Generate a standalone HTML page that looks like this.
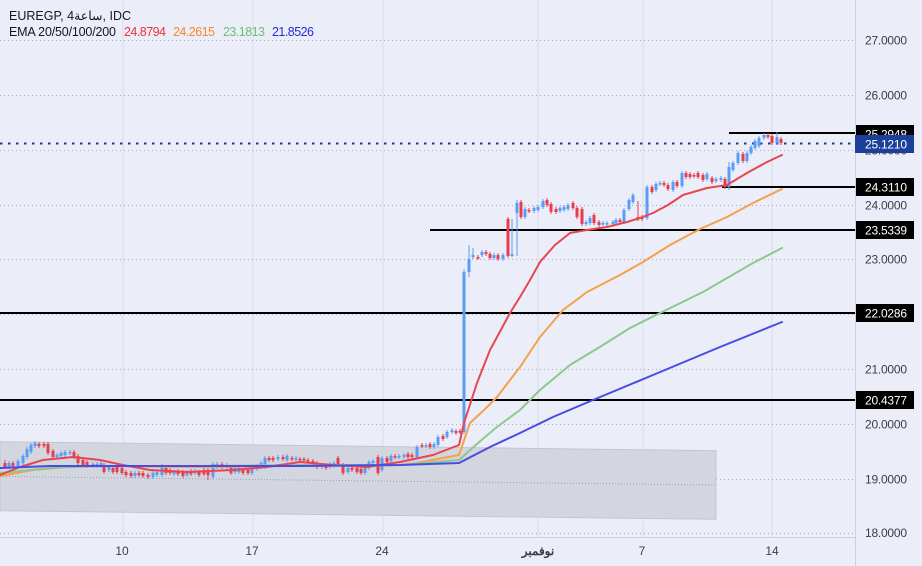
<!DOCTYPE html>
<html><head><meta charset="utf-8"><style>
html,body{margin:0;padding:0;background:#ebeef8;width:922px;height:566px;overflow:hidden}
svg{display:block}
text{font-family:"Liberation Sans","Noto Sans CJK SC",sans-serif}
</style></head><body>
<svg width="922" height="566" viewBox="0 0 922 566" xmlns="http://www.w3.org/2000/svg">
<rect width="922" height="566" fill="#ebeef8"/>
<defs><clipPath id="pl"><rect x="0" y="0" width="855" height="537"/></clipPath></defs>
<!-- vertical grid -->
<g stroke="#d9dce7" stroke-width="1">
<line x1="123" y1="0" x2="123" y2="537"/><line x1="253" y1="0" x2="253" y2="537"/><line x1="383" y1="0" x2="383" y2="537"/>
<line x1="538" y1="0" x2="538" y2="537"/><line x1="643" y1="0" x2="643" y2="537"/><line x1="772" y1="0" x2="772" y2="537"/>
</g>
<!-- horizontal grid -->
<g stroke="#a9adba" stroke-width="1" stroke-dasharray="1 3">
<line x1="0" y1="40.5" x2="855" y2="40.5"/><line x1="0" y1="95.5" x2="855" y2="95.5"/><line x1="0" y1="150.5" x2="855" y2="150.5"/>
<line x1="0" y1="205.5" x2="855" y2="205.5"/><line x1="0" y1="259.5" x2="855" y2="259.5"/><line x1="0" y1="314.5" x2="855" y2="314.5"/>
<line x1="0" y1="369.5" x2="855" y2="369.5"/><line x1="0" y1="424.5" x2="855" y2="424.5"/><line x1="0" y1="479.5" x2="855" y2="479.5"/>
<line x1="0" y1="533.5" x2="855" y2="533.5"/>
</g>
<!-- channel -->
<polygon points="0,441.7 716,450.7 716,519.3 0,510.7" fill="#d3d5df" stroke="#c3c5cf" stroke-width="1"/>
<line x1="0" y1="476.5" x2="716" y2="485" stroke="#8e9dd0" stroke-width="1" stroke-dasharray="1 2"/>
<!-- horizontal levels -->
<g stroke="#000" stroke-width="2">
<line x1="729" y1="133" x2="855" y2="133"/>
<line x1="722" y1="187" x2="855" y2="187"/>
<line x1="430" y1="230" x2="855" y2="230"/>
<line x1="0" y1="313" x2="855" y2="313"/>
<line x1="0" y1="400" x2="855" y2="400"/>
</g>
<line x1="0" y1="143.5" x2="855" y2="143.5" stroke="#1c3f94" stroke-width="2" stroke-dasharray="2.5 5.5"/>
<g clip-path="url(#pl)">
<!-- blue candles -->
<g fill="#5b9cf6" stroke="#5b9cf6">
<path stroke-width="1" fill="none" d="M9,461V469M18,459V468M23,454V465M27,447V459M31,443V454M35,441V448M57,453V459M61,451V458M65,450V457M70,450V455M93,462V468M97,462V468M101,461V468M109,465V472M135,471V478M153,471V479M157,470V477M162,464V477M174,470V476M187,470V477M195,469V475M213,462V479M217,462V469M227,463V470M235,466V474M239,466V474M252,465V475M257,464V471M261,461V469M265,456V469M278,455V461M287,454V462M296,456V461M322,463V469M330,462V469M334,461V468M348,466V474M365,466V475M369,460V470M373,459V465M382,456V472M391,454V463M399,454V459M404,453V459M417,445V459M426,443V448M434,442V449M438,435V447M447,430V439M452,428V434M464,269V434M469,245V277M473,248V259M482,250V257M494,253V260M503,253V261M512,219V257M517,200V256M525,207V219M534,206V213M538,205V212M543,199V209M560,206V213M564,205V212M568,203V211M586,220V226M590,216V225M603,221V226M607,221V226M613,220V226M616,218V225M624,208V224M629,198V211M633,193V204M647,185V220M656,182V192M660,181V186M673,180V192M682,171V188M707,172V181M716,177V183M721,176V182M729,162V190M733,161V172M738,151V165M747,151V163M751,145V155M755,139V150M759,136V148M764,133V140M777,132V145"/>
<g stroke="none">
<rect x="7.5" y="463" width="3" height="4"/><rect x="16.5" y="461" width="3" height="5"/><rect x="21.5" y="456" width="3" height="7"/><rect x="25.5" y="449" width="3" height="8"/><rect x="29.5" y="445" width="3" height="7"/><rect x="33.5" y="443" width="3" height="3"/>
<rect x="55.5" y="455" width="3" height="2"/><rect x="59.5" y="453" width="3" height="3"/><rect x="63.5" y="452" width="3" height="3"/><rect x="68.5" y="452" width="3" height="1.5"/>
<rect x="91.5" y="464" width="3" height="2"/><rect x="95.5" y="464" width="3" height="2"/><rect x="99.5" y="463" width="3" height="3"/><rect x="107.5" y="467" width="3" height="3"/>
<rect x="133.5" y="473" width="3" height="3"/><rect x="151.5" y="473" width="3" height="4"/><rect x="155.5" y="472" width="3" height="3"/><rect x="160.5" y="466" width="3" height="9"/>
<rect x="172.5" y="472" width="3" height="2"/><rect x="185.5" y="472" width="3" height="3"/><rect x="193.5" y="471" width="3" height="2"/>
<rect x="211.5" y="464" width="3" height="13"/><rect x="215.5" y="464" width="3" height="3"/><rect x="225.5" y="465" width="3" height="3"/><rect x="233.5" y="468" width="3" height="4"/><rect x="237.5" y="468" width="3" height="4"/>
<rect x="250.5" y="467" width="3" height="6"/><rect x="255.5" y="466" width="3" height="3"/><rect x="259.5" y="463" width="3" height="4"/><rect x="263.5" y="458" width="3" height="9"/>
<rect x="276.5" y="457" width="3" height="2"/><rect x="285.5" y="456" width="3" height="4"/><rect x="294.5" y="458" width="3" height="1.5"/>
<rect x="320.5" y="465" width="3" height="2"/><rect x="328.5" y="464" width="3" height="3"/><rect x="332.5" y="463" width="3" height="3"/><rect x="346.5" y="468" width="3" height="4"/>
<rect x="363.5" y="468" width="3" height="5"/><rect x="367.5" y="462" width="3" height="6"/><rect x="371.5" y="461" width="3" height="2"/><rect x="380.5" y="458" width="3" height="12"/>
<rect x="389.5" y="456" width="3" height="5"/><rect x="397.5" y="456" width="3" height="1.5"/><rect x="402.5" y="455" width="3" height="2"/><rect x="415.5" y="447" width="3" height="10"/>
<rect x="424.5" y="445" width="3" height="1.5"/><rect x="432.5" y="444" width="3" height="3"/><rect x="436.5" y="437" width="3" height="8"/><rect x="445.5" y="432" width="3" height="5"/><rect x="450.5" y="430" width="3" height="2"/>
<rect x="462.5" y="272" width="3" height="160"/><rect x="467.5" y="259" width="3" height="13"/><rect x="471.5" y="255" width="3" height="2"/><rect x="480.5" y="252" width="3" height="3"/>
<rect x="492.5" y="255" width="3" height="3"/><rect x="501.5" y="255" width="3" height="4"/><rect x="510.5" y="254" width="3" height="2"/><rect x="515.5" y="203" width="3" height="10"/>
<rect x="523.5" y="209" width="3" height="8"/><rect x="532.5" y="208" width="3" height="3"/><rect x="536.5" y="207" width="3" height="3"/><rect x="541.5" y="201" width="3" height="6"/>
<rect x="558.5" y="208" width="3" height="3"/><rect x="562.5" y="207" width="3" height="3"/><rect x="566.5" y="205" width="3" height="4"/>
<rect x="584.5" y="222" width="3" height="2"/><rect x="588.5" y="218" width="3" height="5"/><rect x="601.5" y="223" width="3" height="1.5"/><rect x="605.5" y="223" width="3" height="1.5"/>
<rect x="611.5" y="222" width="3" height="2"/><rect x="614.5" y="220" width="3" height="3"/><rect x="622.5" y="210" width="3" height="12"/><rect x="627.5" y="200" width="3" height="9"/><rect x="631.5" y="195" width="3" height="7"/>
<rect x="645.5" y="187" width="3" height="31"/><rect x="654.5" y="184" width="3" height="6"/><rect x="658.5" y="183" width="3" height="1.5"/><rect x="671.5" y="182" width="3" height="8"/><rect x="680.5" y="173" width="3" height="13"/>
<rect x="705.5" y="174" width="3" height="5"/><rect x="714.5" y="179" width="3" height="2"/><rect x="719.5" y="178" width="3" height="2"/>
<rect x="727.5" y="167" width="3" height="20"/><rect x="731.5" y="163" width="3" height="7"/><rect x="736.5" y="153" width="3" height="10"/><rect x="745.5" y="153" width="3" height="8"/>
<rect x="749.5" y="147" width="3" height="6"/><rect x="753.5" y="141" width="3" height="7"/><rect x="757.5" y="138" width="3" height="8"/><rect x="762.5" y="135" width="3" height="3"/><rect x="775.5" y="137" width="3" height="6"/>
</g>
</g>
<!-- red candles -->
<g fill="#e83e4c" stroke="#e83e4c">
<path stroke-width="1" fill="none" d="M5,460V469M13,461V468M39,442V448M44,442V448M48,442V455M53,449V459M74,450V459M78,454V465M83,458V467M87,460V468M104,463V474M113,466V474M117,463V474M122,466V475M126,470V477M131,471V478M139,471V477M143,471V478M148,473V479M166,466V475M170,468V475M178,469V476M183,470V478M191,469V476M199,470V477M204,468V476M208,468V480M222,462V469M231,465V475M243,468V475M248,468V475M269,456V462M273,456V462M283,455V461M292,456V461M300,457V462M304,457V462M308,458V463M313,459V467M317,461V469M326,464V470M338,456V467M343,463V475M352,466V472M357,466V474M361,467V475M378,455V475M387,456V464M395,454V459M408,452V459M412,453V459M422,443V448M430,442V449M443,434V441M456,429V435M460,429V434M478,255V260M486,250V256M490,252V260M498,253V261M508,217V258M521,200V219M529,208V213M547,198V207M551,202V214M556,207V214M573,201V210M577,206V219M582,207V226M594,213V225M599,220V227M620,218V224M638,201V221M642,215V221M652,185V194M664,181V187M668,183V191M677,180V188M686,171V179M690,172V179M694,173V178M698,171V179M703,173V182M712,176V184M725,177V189M743,152V163M768,133V139M772,134V145M781,137V145"/>
<g stroke="none">
<rect x="3.5" y="463" width="3" height="4"/><rect x="11.5" y="463" width="3" height="3"/><rect x="37.5" y="444" width="3" height="2"/><rect x="42.5" y="444" width="3" height="2"/><rect x="46.5" y="444" width="3" height="9"/><rect x="51.5" y="451" width="3" height="6"/>
<rect x="72.5" y="452" width="3" height="5"/><rect x="76.5" y="456" width="3" height="7"/><rect x="81.5" y="460" width="3" height="5"/><rect x="85.5" y="462" width="3" height="4"/>
<rect x="102.5" y="465" width="3" height="7"/><rect x="111.5" y="468" width="3" height="4"/><rect x="115.5" y="465" width="3" height="7"/><rect x="120.5" y="468" width="3" height="5"/><rect x="124.5" y="472" width="3" height="3"/><rect x="129.5" y="473" width="3" height="3"/>
<rect x="137.5" y="473" width="3" height="2"/><rect x="141.5" y="473" width="3" height="3"/><rect x="146.5" y="475" width="3" height="2"/>
<rect x="164.5" y="468" width="3" height="5"/><rect x="168.5" y="470" width="3" height="3"/><rect x="176.5" y="471" width="3" height="3"/><rect x="181.5" y="472" width="3" height="4"/><rect x="189.5" y="471" width="3" height="3"/>
<rect x="197.5" y="472" width="3" height="3"/><rect x="202.5" y="470" width="3" height="4"/><rect x="206.5" y="470" width="3" height="5"/>
<rect x="220.5" y="464" width="3" height="3"/><rect x="229.5" y="467" width="3" height="6"/><rect x="241.5" y="470" width="3" height="3"/><rect x="246.5" y="470" width="3" height="3"/>
<rect x="267.5" y="458" width="3" height="2"/><rect x="271.5" y="458" width="3" height="2"/><rect x="281.5" y="457" width="3" height="2"/><rect x="290.5" y="458" width="3" height="1.5"/>
<rect x="298.5" y="459" width="3" height="1.5"/><rect x="302.5" y="459" width="3" height="1.5"/><rect x="306.5" y="460" width="3" height="1.5"/><rect x="311.5" y="461" width="3" height="4"/><rect x="315.5" y="463" width="3" height="4"/>
<rect x="324.5" y="466" width="3" height="2"/><rect x="336.5" y="458" width="3" height="7"/><rect x="341.5" y="465" width="3" height="8"/><rect x="350.5" y="468" width="3" height="2"/><rect x="355.5" y="468" width="3" height="4"/><rect x="359.5" y="469" width="3" height="4"/>
<rect x="376.5" y="457" width="3" height="16"/><rect x="385.5" y="458" width="3" height="4"/><rect x="393.5" y="456" width="3" height="1.5"/><rect x="406.5" y="454" width="3" height="3"/><rect x="410.5" y="455" width="3" height="2"/>
<rect x="420.5" y="445" width="3" height="1.5"/><rect x="428.5" y="444" width="3" height="3"/><rect x="441.5" y="436" width="3" height="3"/><rect x="454.5" y="431" width="3" height="2"/><rect x="458.5" y="431" width="3" height="1.5"/>
<rect x="476.5" y="257" width="3" height="1.5"/><rect x="484.5" y="252" width="3" height="2"/><rect x="488.5" y="254" width="3" height="4"/><rect x="496.5" y="255" width="3" height="4"/>
<rect x="506.5" y="219" width="3" height="37"/><rect x="519.5" y="202" width="3" height="15"/><rect x="527.5" y="210" width="3" height="1.5"/><rect x="545.5" y="200" width="3" height="5"/><rect x="549.5" y="204" width="3" height="8"/><rect x="554.5" y="209" width="3" height="3"/>
<rect x="571.5" y="203" width="3" height="5"/><rect x="575.5" y="208" width="3" height="9"/><rect x="580.5" y="209" width="3" height="15"/><rect x="592.5" y="215" width="3" height="8"/><rect x="597.5" y="222" width="3" height="3"/>
<rect x="618.5" y="220" width="3" height="2"/><rect x="636.5" y="217" width="3" height="2"/><rect x="640.5" y="217" width="3" height="2"/>
<rect x="650.5" y="187" width="3" height="5"/><rect x="662.5" y="183" width="3" height="2"/><rect x="666.5" y="185" width="3" height="4"/><rect x="675.5" y="182" width="3" height="4"/>
<rect x="684.5" y="173" width="3" height="4"/><rect x="688.5" y="174" width="3" height="3"/><rect x="692.5" y="175" width="3" height="1.5"/><rect x="696.5" y="173" width="3" height="4"/><rect x="701.5" y="175" width="3" height="5"/><rect x="710.5" y="178" width="3" height="4"/>
<rect x="723.5" y="179" width="3" height="8"/><rect x="741.5" y="154" width="3" height="7"/><rect x="766.5" y="135" width="3" height="2"/><rect x="770.5" y="136" width="3" height="7"/><rect x="779.5" y="139" width="3" height="4"/>
</g>
</g>
<!-- EMAs -->
<g fill="none" stroke-width="2" stroke-linejoin="round" stroke-linecap="round">
<polyline stroke="#f5a04c" points="0,476 33,470 67,467 100,466 200,467 300,466 400,465 417,463 459,455 470,423 484,410 497,397 510,380 520,367 530,352 540,337 563,310 587,292 620,275 643,262 670,245 700,229 727,217 753,203 782,189"/>
<polyline stroke="#8cc98e" points="0,473 50,468 100,466 200,466 300,465 400,465 459,460 478,443 497,427 520,410 540,390 570,365 603,345 630,328 660,313 703,292 753,263 782,248"/>
<polyline stroke="#e8464f" points="0,475 20,467 43,460 73,457 100,460 123,465 150,470 187,472 233,470 267,467 300,462 333,465 367,467 400,462 433,455 459,445 464,423 477,383 490,350 510,313 520,297 530,280 540,262 555,245 570,233 587,230 607,227 627,222 640,218 653,213 668,205 683,195 707,188 727,185 747,173 767,162 782,155"/>
<polyline stroke="#4a4ae8" points="0,468 50,466 100,466 200,466 300,466 400,465 459,463 490,447 520,433 553,417 593,400 653,375 720,347 782,322"/>
</g>
</g>
<!-- axes borders -->
<line x1="855.5" y1="0" x2="855.5" y2="566" stroke="#cdd0da" stroke-width="1"/>
<line x1="0" y1="537.5" x2="855" y2="537.5" stroke="#cdd0da" stroke-width="1"/>
<!-- price labels -->
<g font-size="12" fill="#3a3d47">
<text x="865" y="44.5" textLength="42">27.0000</text>
<text x="865" y="99.5" textLength="42">26.0000</text>
<text x="865" y="154.5" textLength="42">25.0000</text>
<text x="865" y="209.5" textLength="42">24.0000</text>
<text x="865" y="263.5" textLength="42">23.0000</text>
<text x="865" y="373.5" textLength="42">21.0000</text>
<text x="865" y="428.5" textLength="42">20.0000</text>
<text x="865" y="483.5" textLength="42">19.0000</text>
<text x="865" y="537" textLength="42">18.0000</text>
</g>
<rect x="856" y="537.5" width="66" height="29" fill="#ebeef8"/>
<!-- level labels -->
<g font-size="12" fill="#fff">
<rect x="856" y="125" width="58" height="18" fill="#000"/><text x="865" y="138.5" textLength="42">25.2948</text>
<rect x="856" y="178" width="58" height="18" fill="#000"/><text x="865" y="191.5" textLength="42">24.3110</text>
<rect x="856" y="221" width="58" height="18" fill="#000"/><text x="865" y="234.5" textLength="42">23.5339</text>
<rect x="856" y="304" width="58" height="18" fill="#000"/><text x="865" y="317.5" textLength="42">22.0286</text>
<rect x="856" y="391" width="58" height="18" fill="#000"/><text x="865" y="404.5" textLength="42">20.4377</text>
<rect x="855" y="135" width="59" height="18" fill="#1c3f9a"/><text x="865" y="148.5" textLength="42">25.1210</text>
</g>
<!-- time labels -->
<g font-size="12" fill="#3a3d47" text-anchor="middle">
<text x="122" y="555">10</text>
<text x="252" y="555">17</text>
<text x="382" y="555">24</text>
<text x="538" y="555" font-weight="bold">نوفمبر</text>
<text x="642" y="555">7</text>
<text x="772" y="555">14</text>
</g>
<!-- legend -->
<g font-size="12.5" fill="#131722">
<text x="9" y="20">EUREGP, 4ساعة, IDC</text>
<text x="9" y="36" textLength="107">EMA 20/50/100/200</text>
<text x="124" y="36" fill="#e8323f" textLength="42">24.8794</text>
<text x="173" y="36" fill="#f3892a" textLength="42">24.2615</text>
<text x="223" y="36" fill="#6fbf73" textLength="42">23.1813</text>
<text x="272" y="36" fill="#2a2ad6" textLength="42">21.8526</text>
</g>
</svg>
</body></html>
